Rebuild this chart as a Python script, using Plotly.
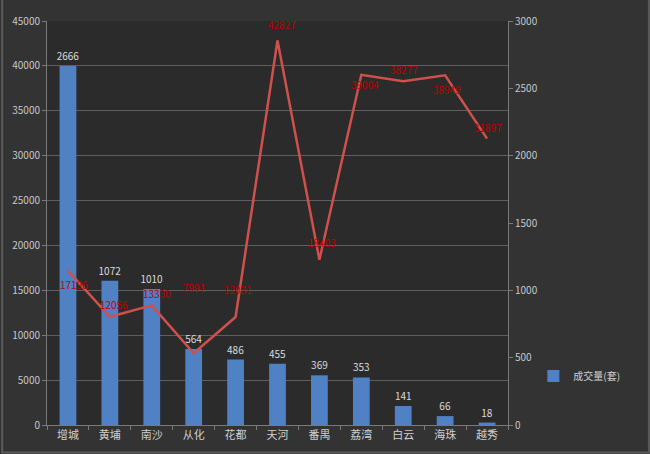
import plotly.graph_objects as go

districts = ["增城", "黄埔", "南沙", "从化", "花都", "天河", "番禺", "荔湾", "白云", "海珠", "越秀"]
volumes = [2666, 1072, 1010, 564, 486, 455, 369, 353, 141, 66, 18]
prices = [17196, 12056, 13330, 7991, 12031, 42827, 18403, 39004, 38277, 38949, 31897]

# label offsets (style only)
price_label_dy = [-14, 12, 12, 66, 27, 16, 17, -10, 12, -14, 11]
price_label_dx = [6, 4, 5, 0, 2, 4, 3, 4, 1, 2, 1]

FONT = "Noto Sans CJK SC, DejaVu Sans, sans-serif"
TICK = "#c4c8cc"

fig = go.Figure()
fig.add_trace(go.Bar(
    x=districts, y=volumes, name="成交量(套)",
    marker=dict(color="#4f81c4", line=dict(width=0)),
    text=[str(v) for v in volumes], textposition="outside",
    constraintext="none",
    textfont=dict(color="#dcdcdc", size=10, family=FONT),
    cliponaxis=False, yaxis="y",
))
fig.add_trace(go.Scatter(
    x=districts, y=prices, mode="lines", name="均价",
    line=dict(color="#d0504c", width=2.5),
    showlegend=False, yaxis="y2", cliponaxis=False,
))

annotations = []
for d, p, dy, dx in zip(districts, prices, price_label_dy, price_label_dx):
    annotations.append(dict(
        x=d, y=p, xref="x", yref="y2", text=str(p), showarrow=False,
        yshift=dy, xshift=dx,
        font=dict(color="#c00000", size=10, family=FONT),
    ))

fig.update_layout(
    width=650, height=454,
    margin=dict(l=45, r=142, t=14, b=28),
    paper_bgcolor="#333333",
    plot_bgcolor="#2b2b2b",
    font=dict(family=FONT, color=TICK, size=10),
    bargap=0.6,
    showlegend=True,
    legend=dict(x=1.055, y=0.121, xanchor="left", yanchor="middle",
                bgcolor="rgba(0,0,0,0)", font=dict(color="#d0d0d0", size=10, family=FONT)),
    xaxis=dict(
        showgrid=False, showline=True, linecolor="#7a7a7a", linewidth=1,
        ticks="outside", ticklen=4, tickcolor="#7a7a7a", tickson="boundaries",
        tickfont=dict(color="#d0d0d0", size=11, family=FONT),
    ),
    yaxis=dict(
        side="right", range=[0, 3000], dtick=500, showgrid=False,
        showline=True, linecolor="#7a7a7a", linewidth=1,
        ticks="outside", ticklen=4, tickcolor="#7a7a7a", tickformat="d",
        tickfont=dict(color=TICK, size=10), zeroline=False,
    ),
    yaxis2=dict(
        side="left", overlaying="y", range=[0, 45000], dtick=5000,
        showgrid=True, gridcolor="#5e5e5e", gridwidth=1,
        showline=True, linecolor="#7a7a7a", linewidth=1,
        ticks="outside", ticklen=4, tickcolor="#7a7a7a", tickformat="d",
        tickfont=dict(color=TICK, size=10), zeroline=False,
    ),
    annotations=annotations,
    shapes=[dict(type="rect", xref="paper", yref="paper", x0=-45/463, x1=(650-45)/463 - 0.001,
                 y0=-28/412, y1=(454-14)/412 - 0.001,
                 line=dict(color="#5a5a5a", width=2), fillcolor="rgba(0,0,0,0)", layer="above")],
)

fig.write_html("out.html")
